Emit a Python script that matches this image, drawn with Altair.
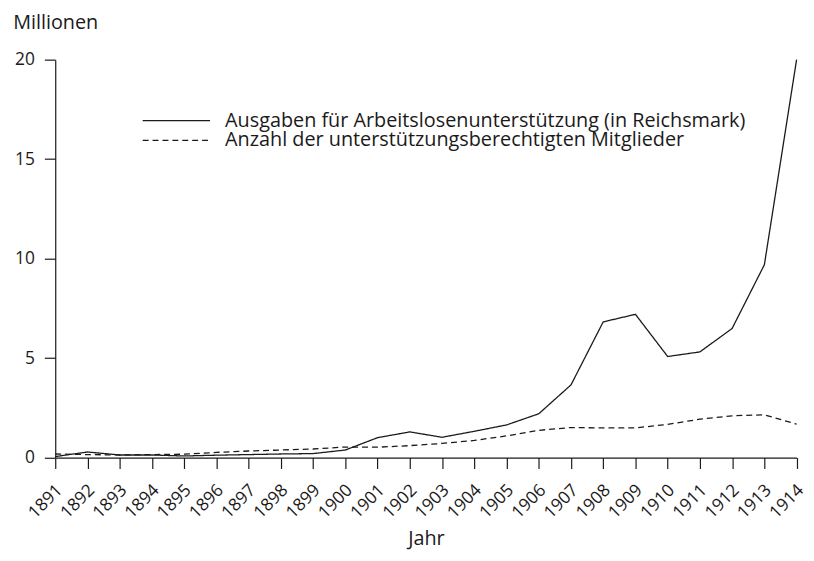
import altair as alt
import pandas as pd

years = list(range(1891, 1915))
ausgaben = [0.05, 0.28, 0.13, 0.13, 0.08, 0.12, 0.15, 0.18, 0.20, 0.38, 1.00, 1.29,
            1.02, 1.32, 1.64, 2.20, 3.65, 6.82, 7.20, 5.08, 5.31, 6.49, 9.69, 20.0]
mitglieder = [0.18, 0.15, 0.13, 0.15, 0.17, 0.26, 0.33, 0.38, 0.43, 0.53, 0.52, 0.60,
              0.71, 0.86, 1.09, 1.37, 1.51, 1.49, 1.49, 1.67, 1.93, 2.10, 2.15, 1.68]
series_names = [
    "Ausgaben für Arbeitslosenunterstützung (in Reichsmark)",
    "Anzahl der unterstützungsberechtigten Mitglieder",
]
y_ticks = [0, 5, 10, 15, 20]

FONT = "Open Sans"
FS = 20        # titles and legend
FS_TICK = 17.5   # tick labels
INK = "#1a1a1a"
DASH = [6, 4]

df = pd.DataFrame(
    {"Jahr": years * 2,
     "Wert": ausgaben + mitglieder,
     "Serie": [series_names[0]] * len(years) + [series_names[1]] * len(years)}
)

W, H = 748.6, 401.8

lines = alt.Chart(df).mark_line(color=INK, strokeWidth=1.3).encode(
    x=alt.X("Jahr:Q",
            scale=alt.Scale(domain=[1891, 1914], nice=False, zero=False),
            axis=alt.Axis(values=years, format="d", title="Jahr",
                          labelAngle=-45, labelAlign="right", labelBaseline="middle",
                          labelPadding=19, labelOffset=4, tickSize=11, grid=False,
                          labelOverlap=False, labelFlush=False, labelBound=False,
                          titleY=88, titleBaseline="alphabetic")),
    y=alt.Y("Wert:Q",
            scale=alt.Scale(domain=[0, 20], nice=False),
            axis=alt.Axis(values=y_ticks, title="Millionen", titleAngle=0,
                          titleAlign="left", titleBaseline="alphabetic",
                          titleX=-43, titleY=-31.5, tickSize=11, labelPadding=10,
                          labelOverlap=False, labelFlush=False, grid=False)),
    strokeDash=alt.StrokeDash("Serie:N",
                              scale=alt.Scale(domain=series_names, range=[[1, 0], DASH]),
                              legend=None),
)

legend_layers = []
row_y = [61.5, 81.5]
for name, yy, dash in zip(series_names, row_y, [[1, 0], DASH]):
    ldf = pd.DataFrame({"label": [name]})
    legend_layers.append(
        alt.Chart(ldf).mark_rule(color=INK, strokeWidth=1.3, strokeDash=dash).encode(
            x=alt.value(88.3), x2=alt.value(156.3), y=alt.value(yy))
    )
    legend_layers.append(
        alt.Chart(ldf).mark_text(align="left", baseline="middle", font=FONT,
                                 fontSize=FS, color=INK).encode(
            x=alt.value(171.5), y=alt.value(yy), text="label:N")
    )

chart = alt.layer(lines, *legend_layers).properties(
    width=W, height=H,
    autosize=alt.AutoSizeParams(type="none"),
    padding={"left": 47.7, "top": 49.5, "right": 9.5, "bottom": 93.7},
).configure_view(stroke=None).configure_axis(
    labelFont=FONT, titleFont=FONT, labelFontSize=FS_TICK, titleFontSize=FS,
    titleFontWeight="normal", labelColor=INK, titleColor=INK,
    domainColor=INK, tickColor=INK, domainWidth=1.2, tickWidth=1.2,
)

chart.save("out.html", embed_options={"renderer": "svg", "actions": False})
